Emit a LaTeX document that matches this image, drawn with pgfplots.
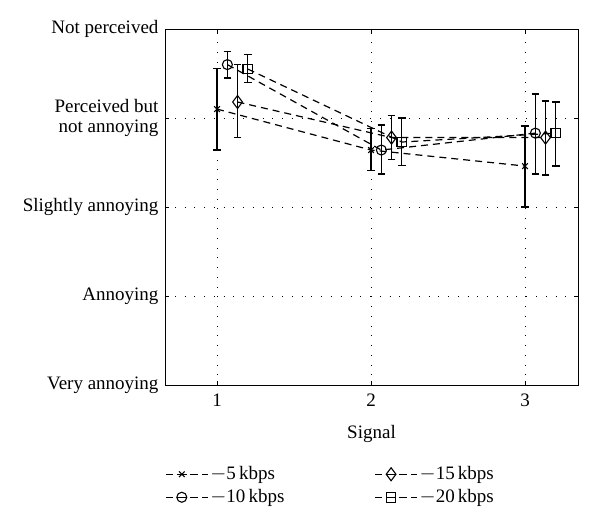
\documentclass[border=0pt]{standalone}
\usepackage{pgfplots}
\pgfplotsset{compat=1.18}
\usepackage{fontspec}
\setmainfont{Liberation Serif}
\begin{document}
\fontsize{19bp}{20.5bp}\selectfont
\begin{tikzpicture}
\path[use as bounding box] (-165bp,-145bp) rectangle (435bp,385bp);
\begin{axis}[
  at={(0,0)}, anchor=south west,
  scale only axis, width=413bp, height=356bp,
  xmin=0.662, xmax=3.344, ymin=1, ymax=5,
  xtick={1,2,3}, ytick={1,2,3,4,5},
  yticklabels={Very annoying, Annoying, Slightly annoying, {Perceived but\\not annoying}, Not perceived},
  yticklabel style={align=right},
  xticklabel style={yshift=-2bp},
  /pgf/number format/assume math mode=true,
  grid=major,
  major grid style={black, line width=0.8pt, dash pattern=on 0.8pt off 9pt},
  tick align=inside, major tick length=4bp,
  tick style={black, line width=0.8pt},
  axis line style={line width=1pt},
  xlabel={Signal},
  xlabel style={yshift=-6bp},
  legend style={draw=none, at={(0,-0.222)}, anchor=north west, fill=none,
    inner sep=0pt,
    /tikz/every even column/.append style={column sep=88bp},
    row sep=3bp},
  legend columns=2, transpose legend,
  legend cell align=left,
  legend image code/.code={
    \path (0bp,0bp) -- (42bp,0bp);
    \draw[#1, dash pattern=on 7bp off 4bp on 10bp off 4bp on 7bp off 1bp] (0bp,0bp) -- (32bp,0bp);
    \draw[#1, draw=none] plot coordinates {(16bp,0bp)};
  },
  error bars/y dir=both, error bars/y explicit,
  error bars/error bar style={solid, line width=1.3bp},
  error bars/error mark options={rotate=90, mark size=3.8bp, line width=1.3bp, solid},
]
\pgfplotsset{mystyle/.style={black, line width=1.2bp, dash pattern=on 7bp off 5bp,
    mark options={solid, line width=1.1bp}}}
\addplot[mystyle, mark=x, mark size=4bp] coordinates {
  (1,4.10) += (0,0.46) -= (0,0.46)
  (2,3.64) += (0,0.24) -= (0,0.23)
  (3,3.46) += (0,0.45) -= (0,0.46)
};
\addlegendentry{$-$5\,kbps}
\addplot[mystyle, mark=o, mark size=5bp] coordinates {
  (1.067,4.60) += (0,0.15) -= (0,0.15)
  (2.067,3.64) += (0,0.28) -= (0,0.27)
  (3.067,3.83) += (0,0.44) -= (0,0.46)
};
\addlegendentry{$-$10\,kbps}
\addplot[mystyle, mark=diamond, mark size=6.5bp] coordinates {
  (1.133,4.18) += (0,0.42) -= (0,0.40)
  (2.133,3.78) += (0,0.25) -= (0,0.25)
  (3.133,3.78) += (0,0.41) -= (0,0.42)
};
\addlegendentry{$-$15\,kbps}
\addplot[mystyle, mark=square, mark size=4.8bp] coordinates {
  (1.2,4.55) += (0,0.16) -= (0,0.15)
  (2.2,3.73) += (0,0.27) -= (0,0.26)
  (3.2,3.83) += (0,0.35) -= (0,0.37)
};
\addlegendentry{$-$20\,kbps}
\end{axis}
\end{tikzpicture}
\end{document}
